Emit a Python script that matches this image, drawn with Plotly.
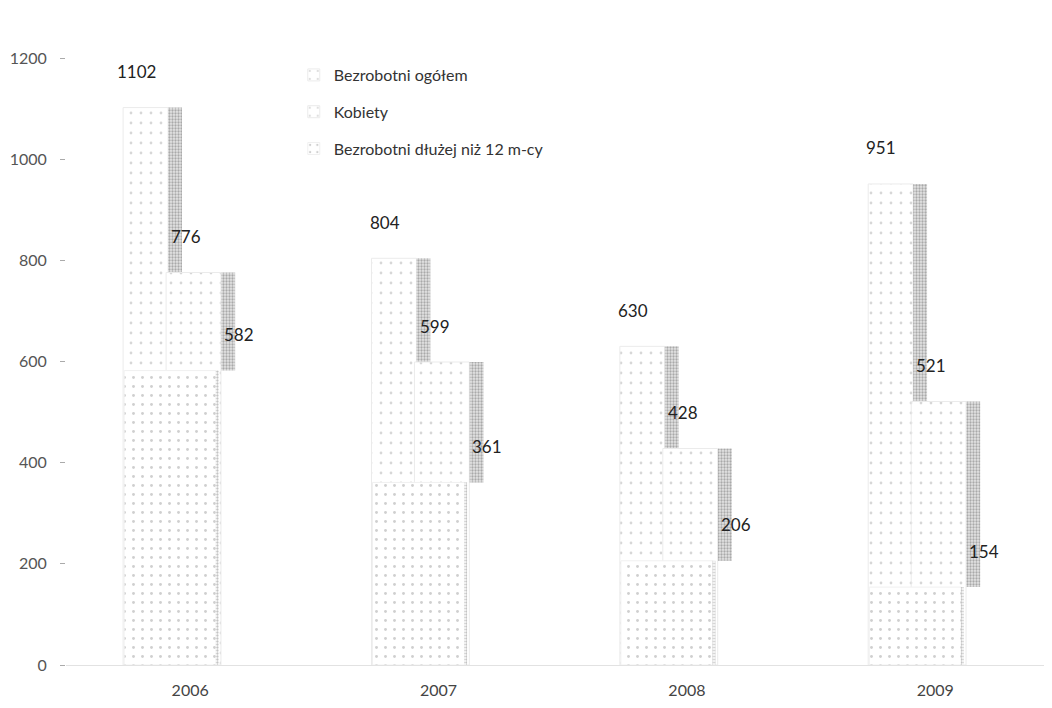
import plotly.graph_objects as go

# ---- data ----
years = ["2006", "2007", "2008", "2009"]
ogolem = [1102, 804, 630, 951]          # Bezrobotni ogółem
kobiety = [776, 599, 428, 521]          # Kobiety
dluzej = [582, 361, 206, 154]           # Bezrobotni dłużej niż 12 m-cy
series_names = ["Bezrobotni ogółem", "Kobiety", "Bezrobotni dłużej niż 12 m-cy"]
y_ticks = [0, 200, 400, 600, 800, 1000, 1200]

xs = list(range(len(years)))

front_pattern = dict(shape=".", fgcolor="#b0b0b0", bgcolor="white", size=10, solidity=0.06)
side_pattern = dict(shape=".", fgcolor="#6e6e6e", bgcolor="#e4e4e4", size=3, solidity=0.45)

fig = go.Figure()

# series 1 : front face + visible side face
fig.add_trace(go.Bar(
    x=xs, y=ogolem, name=series_names[0], legendgroup="g1",
    offset=-0.270, width=0.181,
    marker=dict(color="white", line=dict(color="#ebebeb", width=1), pattern=front_pattern),
    hoverinfo="y+name",
))
fig.add_trace(go.Bar(
    x=xs, y=[a - b for a, b in zip(ogolem, kobiety)], base=kobiety,
    legendgroup="g1", showlegend=False,
    offset=-0.089, width=0.056,
    marker=dict(color="#d0d0d0", line=dict(width=0), pattern=side_pattern),
    hoverinfo="skip",
))

# series 2
fig.add_trace(go.Bar(
    x=xs, y=kobiety, name=series_names[1], legendgroup="g2",
    offset=-0.097, width=0.221,
    marker=dict(color="white", line=dict(color="#ebebeb", width=1), pattern=front_pattern),
    hoverinfo="y+name",
))
fig.add_trace(go.Bar(
    x=xs, y=[a - b for a, b in zip(kobiety, dluzej)], base=dluzej,
    legendgroup="g2", showlegend=False,
    offset=0.125, width=0.056,
    marker=dict(color="#d0d0d0", line=dict(width=0), pattern=side_pattern),
    hoverinfo="skip",
))

# series 3
fig.add_trace(go.Bar(
    x=xs, y=dluzej, name=series_names[2], legendgroup="g3",
    offset=-0.266, width=0.371,
    marker=dict(color="white", line=dict(color="#f0f0f0", width=1),
                pattern=dict(shape=".", fgcolor="#a0a0a0", bgcolor="white", size=9, solidity=0.08)),
    hoverinfo="y+name",
))
fig.add_trace(go.Bar(
    x=xs, y=dluzej, legendgroup="g3", showlegend=False,
    offset=0.103, width=0.012,
    marker=dict(color="#d8d8d8", line=dict(width=0),
                pattern=dict(shape=".", fgcolor="#8a8a8a", bgcolor="white", size=3, solidity=0.5)),
    hoverinfo="skip",
))

# value labels
label_offsets = [-0.217, -0.016, 0.197]
for vals, off in zip([ogolem, kobiety, dluzej], label_offsets):
    for i, v in zip(xs, vals):
        fig.add_annotation(
            x=i + off, y=v, text=str(v), showarrow=False, yshift=36,
            font=dict(family="Lato, Open Sans, sans-serif", size=17, color="#222"),
        )

fig.update_layout(
    width=1044, height=700,
    paper_bgcolor="white", plot_bgcolor="white",
    barmode="overlay",
    margin=dict(l=58, r=0, t=50, b=43),
    font=dict(family="Lato, Open Sans, sans-serif", color="#444"),
    legend=dict(
        x=0.231, y=1.0, xanchor="left", yanchor="top",
        bgcolor="rgba(0,0,0,0)", font=dict(size=16, color="#333"),
        tracegroupgap=13, itemwidth=30,
    ),
    showlegend=True,
)
fig.update_xaxes(
    range=[-0.5, 3.47], tickmode="array", tickvals=xs, ticktext=years,
    showgrid=False, zeroline=False, showline=True, linecolor="#e2e2e2",
    ticks="", ticklabelstandoff=11,
    tickfont=dict(size=16, color="#444"),
)
fig.update_yaxes(
    range=[0, 1200], tickmode="array", tickvals=y_ticks,
    showgrid=False, zeroline=False, showline=False,
    ticks="outside", ticklen=5, tickcolor="#aaa", ticklabelstandoff=10,
    tickfont=dict(size=16, color="#555"),
)

fig.write_html("out.html")
